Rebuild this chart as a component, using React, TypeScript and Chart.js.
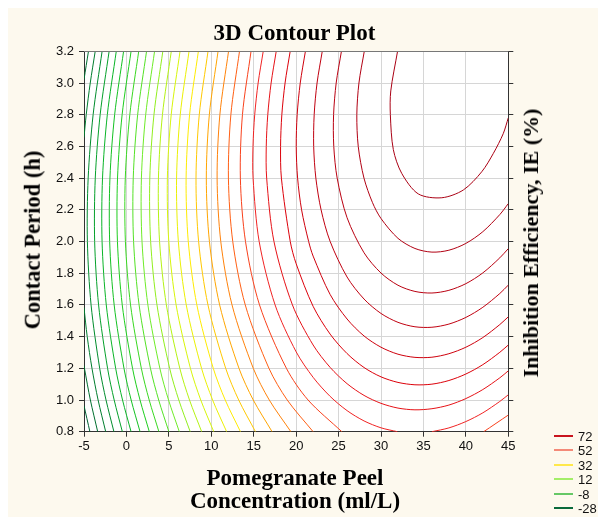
import React, { useEffect, useRef } from "react";
import { Chart, registerables } from "chart.js";

Chart.register(...registerables);

// Axis ranges
const X_MIN = -5;
const X_MAX = 45;
const X_STEP = 5;
const Y_MIN = 0.8;
const Y_MAX = 3.2;
const Y_STEP = 0.2;

// Rows of contact period (h) at which the near-vertical contours were read
const rowT = [0.8, 1.0, 1.2, 1.6, 2.0, 2.4, 2.8, 3.2];
// Levels of those contours
const rowLevels = [-16, -12, -8, -4, 0, 4, 8, 12, 16, 20, 24, 28, 32, 36, 40, 44, 48, 52];
// Concentration (ml/L) where each contour crosses each row
const rowX = [
  [-1.475, -2.404, -3.152, -4.166, -4.601, -4.51, -3.925, -2.867],
  [-0.48, -1.444, -2.223, -3.281, -3.745, -3.671, -3.097, -2.04],
  [0.545, -0.458, -1.269, -2.375, -2.87, -2.817, -2.251, -1.197],
  [1.603, 0.556, -0.289, -1.446, -1.975, -1.943, -1.388, -0.335],
  [2.696, 1.602, 0.719, -0.493, -1.059, -1.049, -0.506, 0.546],
  [3.828, 2.682, 1.757, 0.485, -0.12, -0.134, 0.397, 1.447],
  [5.005, 3.801, 2.83, 1.491, 0.843, 0.803, 1.322, 2.37],
  [6.232, 4.962, 3.94, 2.529, 1.835, 1.766, 2.27, 3.317],
  [7.516, 6.171, 5.092, 3.599, 2.854, 2.755, 3.244, 4.288],
  [8.865, 7.434, 6.29, 4.707, 3.906, 3.773, 4.245, 5.287],
  [10.291, 8.759, 7.541, 5.856, 4.993, 4.824, 5.277, 6.317],
  [11.809, 10.157, 8.852, 7.051, 6.119, 5.909, 6.341, 7.378],
  [13.438, 11.642, 10.234, 8.299, 7.288, 7.032, 7.443, 8.477],
  [15.209, 13.23, 11.698, 9.607, 8.506, 8.199, 8.584, 9.615],
  [17.165, 14.948, 13.262, 10.984, 9.78, 9.414, 9.771, 10.798],
  [19.38, 16.833, 14.949, 12.444, 11.118, 10.685, 11.011, 12.032],
  [22.0, 18.949, 16.794, 14.002, 12.53, 12.018, 12.307, 13.324],
  [25.384, 21.405, 18.852, 15.682, 14.031, 13.426, 13.672, 14.683],
];

// Contour pieces that meet the plot edges
const edgeLevels = [-28, -24, -24, -20, -20, 52];
const edgeX = [
  [-4.306, -5],
  [-3.386, -4.25, -4.947, -5],
  [-5, -4.475],
  [-2.443, -3.338, -4.06, -4.622, -5],
  [-5, -4.737, -4.265, -3.678],
  [42.1, 45],
];
const edgeT = [
  [0.8, 0.964],
  [0.8, 1.0, 1.2, 1.218],
  [3.022, 3.2],
  [0.8, 1.0, 1.2, 1.4, 1.583],
  [2.657, 2.8, 3.0, 3.2],
  [0.8, 0.905],
];

// Curved (U-shaped) contours around the optimum
const uLevels = [56, 56, 60, 64, 68, 72, 76, 80, 84];
const uX = [
  [16.121, 15.52, 15.117, 14.914, 14.923, 15.641, 17.517, 20, 22, 24, 26, 28, 30, 31.93],
  [36.0, 38, 40, 42, 44, 45],
  [17.652, 17.05, 16.656, 16.478, 16.525, 17.385, 19.562, 22, 24, 26, 28, 30, 32, 34, 36, 38, 40, 42, 44, 45],
  [19.298, 18.694, 18.313, 18.164, 18.262, 19.306, 20, 22, 24, 26, 28, 30, 32, 34, 36, 38, 40, 42, 44, 45],
  [21.091, 20.483, 20.119, 20.009, 20.171, 20.64, 21.472, 22, 24, 26, 28, 30, 32, 34, 36, 38, 40, 42, 44, 45],
  [23.077, 22.464, 22.124, 22.066, 22.322, 22.938, 24, 26, 28, 30, 32, 34, 36, 38, 40, 42, 44, 45],
  [25.336, 24.718, 24.411, 24.434, 24.833, 26, 28, 30, 32, 34, 36, 38, 40, 42, 44, 45],
  [28.029, 27.399, 27.15, 27.317, 27.992, 29, 30, 32, 34, 36, 38, 40, 42, 44, 45],
  [31.95, 31.15, 31.1, 31.45, 32.44, 34.4, 37.16, 39.7, 41.87, 43.24, 44.4, 45],
];
const uT = [
  [3.2, 3.0, 2.8, 2.6, 2.4, 2.0, 1.6, 1.304, 1.143, 1.023, 0.933, 0.868, 0.8245, 0.8],
  [0.8, 0.824, 0.864, 0.919, 0.991, 1.033],
  [3.2, 3.0, 2.8, 2.6, 2.4, 2.0, 1.6, 1.347, 1.206, 1.103, 1.029, 0.979, 0.949, 0.938, 0.945, 0.968, 1.009, 1.066, 1.14, 1.184],
  [3.2, 3.0, 2.8, 2.6, 2.4, 2.0, 1.86, 1.591, 1.416, 1.293, 1.205, 1.146, 1.111, 1.096, 1.1, 1.123, 1.164, 1.223, 1.301, 1.347],
  [3.2, 3.0, 2.8, 2.6, 2.4, 2.2, 2.0, 1.908, 1.666, 1.511, 1.404, 1.333, 1.289, 1.269, 1.27, 1.292, 1.333, 1.394, 1.476, 1.525],
  [3.2, 3.0, 2.8, 2.6, 2.4, 2.2, 2.001, 1.776, 1.637, 1.546, 1.49, 1.462, 1.459, 1.479, 1.521, 1.585, 1.672, 1.725],
  [3.2, 3.0, 2.8, 2.6, 2.4, 2.15, 1.929, 1.801, 1.724, 1.685, 1.675, 1.692, 1.734, 1.802, 1.897, 1.955],
  [3.2, 3.0, 2.8, 2.6, 2.4, 2.245, 2.145, 2.02, 1.956, 1.933, 1.945, 1.988, 2.062, 2.17, 2.239],
  [3.2, 2.95, 2.8, 2.58, 2.43, 2.3, 2.276, 2.325, 2.44, 2.556, 2.68, 2.78],
];

// Legend
const legendLevels = [72, 52, 32, 12, -8, -28];
const legendColors = ["#c8141e", "#f48a78", "#ffe84a", "#a4ee68", "#66c866", "#0a6a3c"];

// Colour scale for contour levels
const COLOR_STOPS: [number, number[]][] = [
  [-28, [0, 96, 48]],
  [-16, [0, 140, 45]],
  [-8, [10, 180, 40]],
  [0, [30, 205, 30]],
  [12, [110, 235, 40]],
  [24, [215, 245, 10]],
  [32, [255, 235, 0]],
  [40, [255, 165, 0]],
  [48, [255, 95, 20]],
  [56, [240, 35, 35]],
  [64, [220, 0, 10]],
  [72, [192, 0, 16]],
  [84, [170, 0, 20]],
];

function levelColor(level: number): string {
  const toRgb = (c: number[]) => `rgb(${c.map((v) => Math.round(v)).join(",")})`;
  if (level <= COLOR_STOPS[0][0]) return toRgb(COLOR_STOPS[0][1]);
  for (let i = 1; i < COLOR_STOPS.length; i++) {
    const [l0, c0] = COLOR_STOPS[i - 1];
    const [l1, c1] = COLOR_STOPS[i];
    if (level <= l1) {
      const f = (level - l0) / (l1 - l0);
      return toRgb(c0.map((v, k) => v + (c1[k] - v) * f));
    }
  }
  return toRgb(COLOR_STOPS[COLOR_STOPS.length - 1][1]);
}

function makeDataset(level: number, xs: number[], ts: number[]) {
  const col = levelColor(level);
  return {
    label: String(level),
    data: xs.map((x, i) => ({ x, y: ts[i] })),
    showLine: true,
    borderColor: col,
    backgroundColor: col,
    borderWidth: 1,
    pointRadius: 0,
    pointHoverRadius: 0,
    tension: 0.3,
    fill: false,
    clip: 0,
  };
}

const plotFrame = {
  id: "plotFrame",
  beforeDraw(chart: any) {
    const { ctx, chartArea: a } = chart;
    ctx.save();
    ctx.fillStyle = "#ffffff";
    ctx.fillRect(a.left, a.top, a.right - a.left, a.bottom - a.top);
    ctx.restore();
  },
  afterDraw(chart: any) {
    const { ctx, chartArea: a } = chart;
    ctx.save();
    ctx.strokeStyle = "#777777";
    ctx.lineWidth = 1;
    const y = Math.round(a.top) + 0.5;
    ctx.beginPath();
    ctx.moveTo(a.left, y);
    ctx.lineTo(a.right, y);
    ctx.stroke();
    ctx.restore();
  },
};

const SANS = '"Liberation Sans", Arial, sans-serif';
const SERIF = '"Liberation Serif", "Times New Roman", serif';

export default function App() {
  const canvasRef = useRef<HTMLCanvasElement | null>(null);

  useEffect(() => {
    if (!canvasRef.current) return;
    const datasets: any[] = [];
    rowLevels.forEach((lv, i) => datasets.push(makeDataset(lv, rowX[i], rowT)));
    edgeLevels.forEach((lv, i) => datasets.push(makeDataset(lv, edgeX[i], edgeT[i])));
    uLevels.forEach((lv, i) => datasets.push(makeDataset(lv, uX[i], uT[i])));

    const tickFont = { family: SANS, size: 13 };
    const chart = new Chart(canvasRef.current, {
      type: "scatter",
      data: { datasets },
      plugins: [plotFrame],
      options: {
        animation: false,
        responsive: false,
        devicePixelRatio: 1,
        layout: { padding: { top: 43.3, left: 0, right: 0, bottom: 0 } },
        plugins: {
          legend: { display: false },
          tooltip: { enabled: false },
          title: { display: false },
        },
        events: [],
        scales: {
          x: {
            type: "linear",
            position: "bottom",
            min: X_MIN,
            max: X_MAX,
            ticks: { stepSize: X_STEP, color: "#111", font: tickFont, padding: 2, maxRotation: 0, autoSkip: false },
            grid: { color: "#d6d6d6", tickColor: "#333", tickLength: 5, lineWidth: 1 },
            border: { color: "#333", width: 1 },
            afterFit: (s: any) => {
              s.height = 85.3;
            },
          },
          y: {
            type: "linear",
            position: "left",
            min: Y_MIN,
            max: Y_MAX,
            ticks: {
              stepSize: Y_STEP,
              maxTicksLimit: 20,
              color: "#111",
              font: tickFont,
              padding: 5,
              callback: (v: any) => Number(v).toFixed(1),
            },
            grid: { color: "#d6d6d6", tickColor: "#333", tickLength: 5, lineWidth: 1 },
            border: { color: "#333", width: 1 },
            afterFit: (s: any) => {
              s.width = 76;
            },
          },
          y2: {
            type: "linear",
            position: "right",
            min: Y_MIN,
            max: Y_MAX,
            ticks: { stepSize: Y_STEP, maxTicksLimit: 20, display: false },
            grid: { drawOnChartArea: false, tickColor: "#333", tickLength: 5 },
            border: { color: "#333", width: 1 },
            afterFit: (s: any) => {
              s.width = 89.7;
            },
          },
        },
      } as any,
    });
    return () => chart.destroy();
  }, []);

  const centered = (left: number, top: number, rotate = false): React.CSSProperties => ({
    position: "absolute",
    left,
    top,
    transform: rotate ? "translate(-50%, -50%) rotate(-90deg)" : "translate(-50%, -50%)",
    whiteSpace: "nowrap",
    lineHeight: 1,
    fontFamily: SERIF,
    fontWeight: "bold",
    color: "#000",
  });

  return (
    <div
      style={{
        position: "fixed",
        left: 8,
        top: 8,
        width: 590,
        height: 509,
        background: "#fdf9ee",
        overflow: "hidden",
      }}
    >
      <canvas
        ref={canvasRef}
        width={590}
        height={509}
        style={{ position: "absolute", left: 0, top: 0, width: 590, height: 509 }}
      />
      <div style={{ ...centered(286.5, 24), fontSize: 23 }}>3D Contour Plot</div>
      <div style={{ ...centered(287, 468.5), fontSize: 23 }}>Pomegranate Peel</div>
      <div style={{ ...centered(287, 492), fontSize: 23 }}>Concentration (ml/L)</div>
      <div style={{ ...centered(25, 232, true), fontSize: 22.5 }}>Contact Period (h)</div>
      <div style={{ ...centered(523, 235, true), fontSize: 22 }}>Inhibition Efficiency, IE (%)</div>
      {legendLevels.map((lv, i) => {
        const y = 427.7 + i * 14.5;
        return (
          <React.Fragment key={lv}>
            <div
              style={{
                position: "absolute",
                left: 546,
                top: y - 1,
                width: 19,
                height: 2,
                background: legendColors[i],
              }}
            />
            <div
              style={{
                position: "absolute",
                left: 570,
                top: y,
                transform: "translateY(-50%)",
                fontFamily: SANS,
                fontSize: 13,
                lineHeight: 1,
                color: "#111",
                whiteSpace: "nowrap",
              }}
            >
              {String(lv)}
            </div>
          </React.Fragment>
        );
      })}
    </div>
  );
}
